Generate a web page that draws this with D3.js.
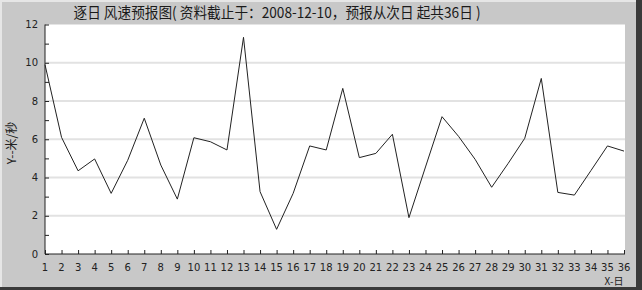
<!DOCTYPE html>
<meta charset="utf-8">
<body style="margin:0">
<script src="https://d3js.org/d3.v7.min.js"></script>
<div id="my_dataviz"></div>
<script>
// data
var days = d3.range(1, 37);
var speeds = [9.9, 6.1, 4.35, 4.97, 3.17, 4.9, 7.1, 4.65, 2.87, 6.08,
              5.87, 5.44, 11.33, 3.26, 1.29, 3.17, 5.65, 5.44, 8.66, 5.04,
              5.26, 6.26, 1.9, 4.55, 7.18, 6.15, 4.95, 3.49, 4.74, 6.05,
              9.18, 3.22, 3.08, 4.36, 5.65, 5.38];
var yTicks = [0, 2, 4, 6, 8, 10, 12];
var titleText = "逐日 风速预报图( 资料截止于：2008-12-10，预报从次日 起共36日 )";

var W = 642, H = 290;
var svg = d3.select("#my_dataviz").append("svg")
    .attr("width", W).attr("height", H);

// background + bevel frame
svg.append("rect").attr("width", W).attr("height", H).attr("fill", "#c8c8c8");
svg.append("rect").attr("x", 0).attr("y", 0).attr("width", W).attr("height", 2).attr("fill", "#e6e6e6");
svg.append("rect").attr("x", 0).attr("y", 0).attr("width", 2).attr("height", H).attr("fill", "#e6e6e6");
svg.append("rect").attr("x", W - 6).attr("y", 0).attr("width", 6).attr("height", H).attr("fill", "#3a3a3a");
svg.append("rect").attr("x", 0).attr("y", H - 3).attr("width", W).attr("height", 3).attr("fill", "#3a3a3a");

var x = d3.scaleLinear().domain([1, 36]).range([45, 624]);
var y = d3.scaleLinear().domain([0, 12]).range([254, 24.5]);

// plot area
svg.append("rect")
    .attr("x", x(1)).attr("y", y(12))
    .attr("width", x(36) - x(1) + 1).attr("height", y(0) - y(12))
    .attr("fill", "#fff");

// gridlines
svg.selectAll(".grid")
  .data(yTicks.filter(function(d) { return d > 0 && d < 12; }))
  .enter().append("line")
    .attr("x1", x(1) + 1).attr("x2", x(36) + 1)
    .attr("y1", function(d) { return y(d); })
    .attr("y2", function(d) { return y(d); })
    .attr("stroke", "#e2e2e2").attr("stroke-width", 2);

// Y axis (ticks inside)
var yAxis = svg.append("g")
    .attr("transform", "translate(" + x(1) + ",0)")
    .call(d3.axisRight(y).tickValues(d3.range(0, 13)).tickSize(4).tickFormat(""));
yAxis.select(".domain").attr("d", "M0," + y(0) + "V" + y(12));
yAxis.selectAll("line").attr("stroke", "#222");
yAxis.selectAll(".domain").attr("stroke", "#222");

svg.selectAll(".ylab")
  .data(yTicks)
  .enter().append("text")
    .attr("x", 38)
    .attr("y", function(d) { return y(d); })
    .attr("dy", "0.35em")
    .attr("text-anchor", "end")
    .style("font-family", "DejaVu Sans")
    .style("font-size", "10px")
    .attr("fill", "#222")
    .text(function(d) { return d; });

// X axis (ticks upward)
var xAxis = svg.append("g")
    .attr("transform", "translate(0," + y(0) + ")")
    .call(d3.axisTop(x).tickValues(days).tickSize(4).tickFormat(""));
xAxis.select(".domain").attr("d", "M" + x(1) + ",0H" + (x(36) + 1));
xAxis.selectAll("line").attr("stroke", "#222");
xAxis.selectAll(".domain").attr("stroke", "#222");

svg.selectAll(".xlab")
  .data(days)
  .enter().append("text")
    .attr("x", function(d) { return x(d); })
    .attr("y", 267)
    .attr("dy", "0.35em")
    .attr("text-anchor", "middle")
    .style("font-family", "DejaVu Sans")
    .style("font-size", "10px")
    .attr("fill", "#222")
    .text(function(d) { return d; });

// line
var line = d3.line()
    .x(function(d, i) { return x(days[i]); })
    .y(function(d) { return y(d); });
svg.append("path")
    .datum(speeds)
    .attr("d", line)
    .attr("fill", "none")
    .attr("stroke", "#222")
    .attr("stroke-width", 1);

// title
svg.append("text")
    .attr("x", 277).attr("y", 13)
    .attr("dy", "0.35em")
    .attr("text-anchor", "middle")
    .attr("textLength", 407)
    .attr("lengthAdjust", "spacingAndGlyphs")
    .style("font-family", "Noto Sans CJK SC")
    .style("font-size", "15px")
    .attr("fill", "#1a1a1a")
    .text(titleText);

// axis labels
svg.append("text")
    .attr("transform", "translate(12,143)rotate(-90)")
    .attr("dy", "0.35em")
    .attr("text-anchor", "middle")
    .style("font-family", "Noto Sans CJK SC")
    .style("font-size", "12px")
    .attr("fill", "#222")
    .text("Y--米/秒");
svg.append("text")
    .attr("x", 614).attr("y", 281)
    .attr("dy", "0.35em")
    .attr("text-anchor", "middle")
    .style("font-family", "Noto Sans CJK SC")
    .style("font-size", "10px")
    .attr("fill", "#222")
    .text("X-日");
</script>
</body>
